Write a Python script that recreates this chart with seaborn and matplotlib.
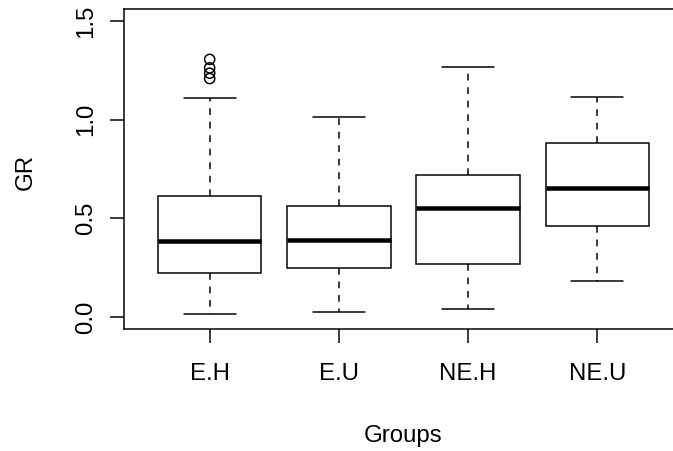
import numpy as np
import pandas as pd
import matplotlib
matplotlib.use("Agg")
import matplotlib.pyplot as plt
import seaborn as sns

# ---- data (five-number summaries per group) ----
groups = ["E.H", "E.U", "NE.H", "NE.U"]
whisker_low = [0.014, 0.025, 0.039, 0.183]
q1 = [0.226, 0.249, 0.268, 0.460]
median = [0.385, 0.392, 0.554, 0.653]
q3 = [0.613, 0.561, 0.722, 0.880]
whisker_high = [1.110, 1.015, 1.268, 1.112]
outlier_group = ["E.H", "E.H", "E.H", "E.H"]
outlier_values = [1.305, 1.262, 1.235, 1.208]
yticks = [0.0, 0.5, 1.0, 1.5]
ytick_labels = ["0.0", "0.5", "1.0", "1.5"]

rows = []
for g, a, b, c, d, e in zip(groups, whisker_low, q1, median, q3, whisker_high):
    for v in (a, b, c, d, e):
        rows.append({"Groups": g, "GR": v})
df = pd.DataFrame(rows)
df_out = pd.DataFrame({"Groups": outlier_group, "GR": outlier_values})

sns.set_style("ticks")
plt.rcParams["font.family"] = ["Liberation Sans", "DejaVu Sans"]
plt.rcParams["axes.edgecolor"] = "black"
plt.rcParams["axes.linewidth"] = 1.08

FS = 17.3
LW = 1.08

fig = plt.figure(figsize=(6.73, 4.51), dpi=100)
ax = fig.add_axes([124.4 / 673, (451 - 329) / 451, 558.1 / 673, 320 / 451])

sns.boxplot(
    data=df, x="Groups", y="GR", order=groups, whis=(0, 100),
    color="white", linecolor="black", linewidth=LW, width=0.8,
    fill=True, showfliers=False, ax=ax,
    boxprops={"facecolor": "white", "edgecolor": "black", "linewidth": LW},
    medianprops={"color": "black", "linewidth": 3.24, "solid_capstyle": "butt"},
    whiskerprops={"color": "black", "linewidth": LW, "linestyle": (0, (4.5, 4.5))},
    capprops={"color": "black", "linewidth": LW},
)

sns.stripplot(
    data=df_out, x="Groups", y="GR", order=groups, jitter=False,
    color="black", marker="o", size=7.3, linewidth=LW, edgecolor="black",
    ax=ax,
)
for coll in ax.collections:
    coll.set_facecolor("none")
    coll.set_edgecolor("black")

ax.set_xlim(-0.66, 3.66)
ax.set_ylim(-0.06, 1.56)
ax.set_yticks(yticks)
ax.set_yticklabels(ytick_labels)
ax.set_xticks(range(len(groups)))
ax.set_xticklabels(groups)

for s in ax.spines.values():
    s.set_visible(True)
    s.set_color("black")
    s.set_linewidth(LW)

ax.tick_params(axis="both", direction="out", length=10.4, width=LW,
               color="black", labelsize=FS, labelcolor="black")
ax.tick_params(axis="x", pad=14.0)
ax.tick_params(axis="y", pad=9.0)
for lab in ax.get_yticklabels():
    lab.set_rotation(90)
    lab.set_va("center")

ax.set_xlabel("Groups", fontsize=FS, color="black")
ax.set_ylabel("GR", fontsize=FS, color="black")
ax.xaxis.set_label_coords(0.5, -0.30)
ax.yaxis.set_label_coords(-0.1566, 0.49)

fig.savefig("out.png", dpi=100, facecolor="white")
